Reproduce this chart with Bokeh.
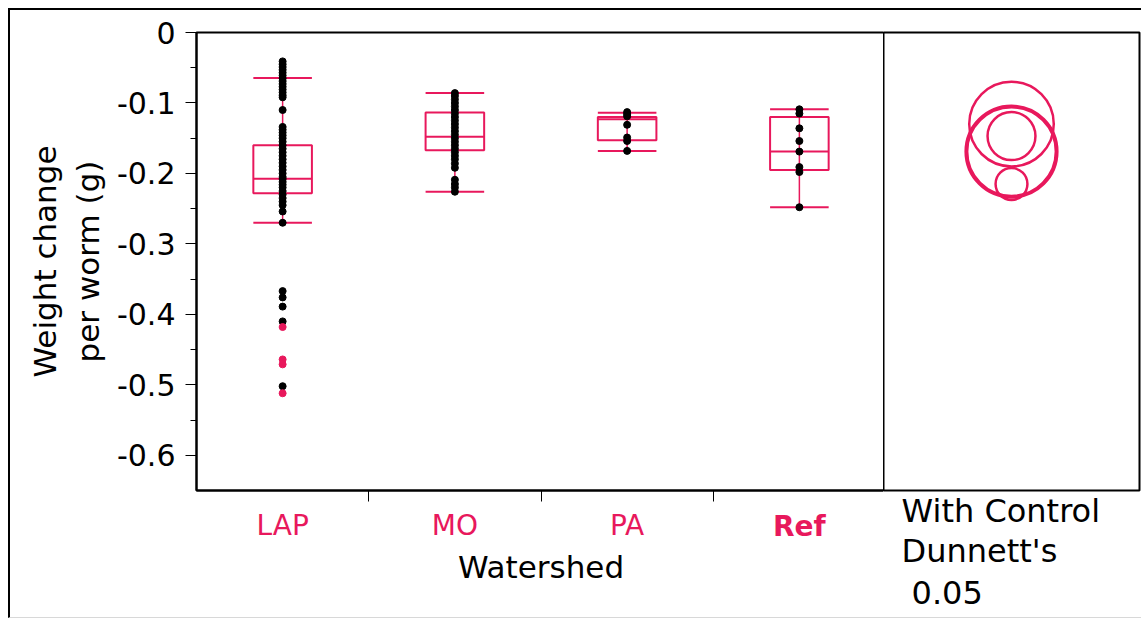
from bokeh.plotting import figure
from bokeh.layouts import row
from bokeh.models import Range1d, FixedTicker, Label, CustomJSTickFormatter
from bokeh.embed import file_html
from bokeh.resources import INLINE

# ---------------- data ----------------
categories = ["LAP", "MO", "PA", "Ref"]

lap_values = [-0.041, -0.045, -0.049, -0.053, -0.057, -0.061, -0.065, -0.069, -0.073,
              -0.077, -0.081, -0.085, -0.089, -0.092, -0.110, -0.134, -0.138, -0.142,
              -0.146, -0.150, -0.155, -0.160, -0.165, -0.170, -0.175, -0.180, -0.185,
              -0.190, -0.195, -0.200, -0.205, -0.208, -0.212, -0.216, -0.220, -0.225,
              -0.230, -0.235, -0.240, -0.245, -0.254, -0.270]
lap_outliers_black = [-0.367, -0.376, -0.389, -0.410, -0.502]
lap_outliers_red = [-0.418, -0.464, -0.471, -0.512]
mo_values = [-0.086, -0.090, -0.095, -0.100, -0.105, -0.110, -0.115, -0.120, -0.125,
             -0.130, -0.135, -0.140, -0.145, -0.150, -0.155, -0.160, -0.165, -0.170,
             -0.175, -0.180, -0.186, -0.192, -0.209, -0.215, -0.220, -0.226]
pa_values = [-0.113, -0.116, -0.119, -0.131, -0.149, -0.154, -0.168]
ref_values = [-0.109, -0.115, -0.136, -0.154, -0.169, -0.191, -0.198, -0.248]

whisker_hi = [-0.0646, -0.0858, -0.114, -0.109]
q3 = [-0.160, -0.1136, -0.120, -0.120]
median = [-0.2075, -0.148, -0.123, -0.169]
q1 = [-0.228, -0.167, -0.153, -0.195]
whisker_lo = [-0.270, -0.226, -0.168, -0.248]

# comparison circles (Dunnett's with control): LAP, MO, PA, Ref
circle_means = [-0.215, -0.147, -0.130, -0.169]
circle_radii = [0.0226, 0.034, 0.060, 0.064]
circle_widths = [2.5, 2.5, 2.5, 4]

y_major_ticks = [0, -0.1, -0.2, -0.3, -0.4, -0.5, -0.6]
y_minor_ticks = [-0.05, -0.15, -0.25, -0.35, -0.45, -0.55]

panel_lines = ["With Control", "Dunnett's", "0.05"]

RED = "#e8185c"
FONT = "DejaVu Sans"

n = len(categories)
y_range = Range1d(-0.65, 0)

# ---------------- main panel ----------------
p = figure(width=875, height=610, output_backend="svg", toolbar_location=None,
           x_range=Range1d(0, n), y_range=y_range,
           min_border_left=186, min_border_top=22, min_border_bottom=128,
           min_border_right=0)
p.styles = {"margin-left": "8px", "margin-top": "8px",
            "border-top": "2px solid black", "border-left": "2px solid black",
            "border-bottom": "1px solid #d8d8d8"}
p.xgrid.visible = False
p.ygrid.visible = False
p.outline_line_color = "black"
p.outline_line_width = 2

centers = [i + 0.5 for i in range(n)]
bw = 0.34
lefts = [c - bw / 2 for c in centers]
rights = [c + bw / 2 for c in centers]

p.segment(x0=centers, y0=whisker_lo, x1=centers, y1=whisker_hi, line_color=RED, line_width=1.5)
p.quad(left=lefts, right=rights, top=q3, bottom=q1, fill_color=None, line_color=RED, line_width=2)
p.segment(x0=lefts, y0=median, x1=rights, y1=median, line_color=RED, line_width=2)
for arr in (whisker_hi, whisker_lo):
    p.segment(x0=lefts, y0=arr, x1=rights, y1=arr, line_color=RED, line_width=2)

groups = [lap_values + lap_outliers_black, mo_values, pa_values, ref_values]
for c, vals in zip(centers, groups):
    p.scatter(x=[c] * len(vals), y=vals, size=7, color="black")
p.scatter(x=[centers[0]] * len(lap_outliers_red), y=lap_outliers_red, size=7, color=RED)

p.yaxis.ticker = FixedTicker(ticks=y_major_ticks, minor_ticks=y_minor_ticks)
p.yaxis.formatter = CustomJSTickFormatter(code="return tick == 0 ? '0' : tick.toFixed(1);")
p.yaxis.major_tick_out = 11
p.yaxis.major_tick_in = 0
p.yaxis.minor_tick_out = 6
p.yaxis.minor_tick_in = 0
p.yaxis.major_label_standoff = 10
p.yaxis.major_label_text_font = FONT
p.yaxis.major_label_text_font_size = "30px"
p.yaxis.major_label_text_color = "black"
p.yaxis.axis_line_width = 2
p.yaxis.axis_label = "Weight change\nper worm (g)"
p.yaxis.axis_label_text_font = FONT
p.yaxis.axis_label_text_font_size = "31px"
p.yaxis.axis_label_text_font_style = "normal"
p.yaxis.axis_label_text_color = "black"
p.yaxis.axis_label_text_line_height = 1.2
p.yaxis.axis_label_standoff = 8

p.xaxis.ticker = FixedTicker(ticks=centers, minor_ticks=[1, 2, 3])
p.xaxis.major_label_overrides = {c: (lab if lab != "Ref" else "") for c, lab in zip(centers, categories)}
p.xaxis.major_tick_out = 0
p.xaxis.major_tick_in = 0
p.xaxis.minor_tick_out = 11
p.xaxis.minor_tick_in = 0
p.xaxis.axis_line_width = 2
p.xaxis.major_label_standoff = 7
p.xaxis.major_label_text_font = FONT
p.xaxis.major_label_text_font_size = "28px"
p.xaxis.major_label_text_color = RED
p.xaxis.axis_label = "Watershed"
p.xaxis.axis_label_text_font = FONT
p.xaxis.axis_label_text_font_size = "31px"
p.xaxis.axis_label_text_font_style = "normal"
p.xaxis.axis_label_text_color = "black"
p.xaxis.axis_label_standoff = 4

# bold control label (in the side panel so it is not clipped)
p.add_layout(Label(x=centers[3], y=-0.678, text="Ref", text_align="center", text_baseline="top",
                   text_font=FONT, text_font_size="28px", text_font_style="bold", text_color=RED),
             "below")

# ---------------- comparison circles panel ----------------
w2 = 1.486
p2 = figure(width=258, height=610, output_backend="svg", toolbar_location=None,
            x_range=Range1d(0, w2), y_range=y_range,
            x_axis_location=None, y_axis_location=None,
            min_border_left=0, min_border_top=22, min_border_bottom=128, min_border_right=2)
p2.styles = {"margin-top": "8px", "border-top": "2px solid black",
             "border-bottom": "1px solid #d8d8d8"}
p2.xgrid.visible = False
p2.ygrid.visible = False
p2.outline_line_color = "black"
p2.outline_line_width = 2

p2.circle(x=[w2 / 2] * len(circle_means), y=circle_means, radius=circle_radii,
          radius_dimension="y", fill_color=None, line_color=RED, line_width=circle_widths)

for txt, xx, yy in zip(panel_lines, (0.105, 0.105, 0.163), (-0.652, -0.709, -0.778)):
    p2.add_layout(Label(x=xx, y=yy, text=txt, text_align="left", text_baseline="top",
                        text_font=FONT, text_font_size="32px", text_color="black"), "below")

layout = row(p, p2)
open("out.html", "w").write(file_html(layout, INLINE))
